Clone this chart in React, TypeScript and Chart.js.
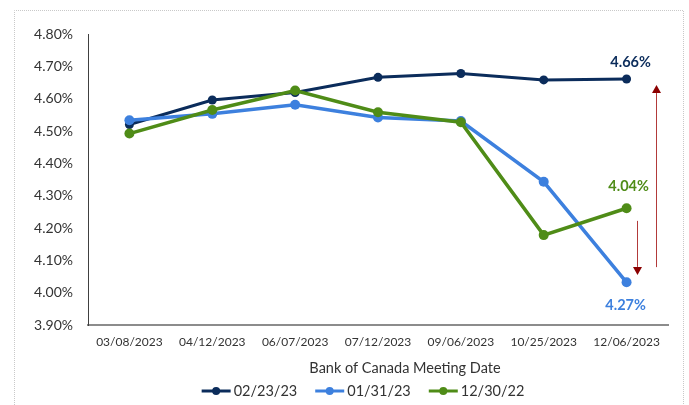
import React, { useEffect, useRef } from 'react';
import { Chart, registerables } from 'chart.js';

Chart.register(...registerables);

// ---- data ----
const categories = ['03/08/2023', '04/12/2023', '06/07/2023', '07/12/2023', '09/06/2023', '10/25/2023', '12/06/2023'];
const seriesNames = ['02/23/23', '01/31/23', '12/30/22'];
const series0223 = [4.52, 4.596, 4.619, 4.666, 4.678, 4.658, 4.661];
const series0131 = [4.533, 4.553, 4.581, 4.542, 4.531, 4.343, 4.032];
const series1230 = [4.492, 4.565, 4.625, 4.558, 4.527, 4.178, 4.261];
const endLabels = ['4.66%', '4.27%', '4.04%'];
const yMin = 3.9;
const yMax = 4.8;
const yStep = 0.1;
const xAxisTitle = 'Bank of Canada Meeting Date';
// arrows: category position (fractional index) and value range (from -> to)
const arrowAt = [6.36, 6.12];
const arrowFrom = [4.079, 4.222];
const arrowTo = [4.642, 4.055];

// ---- styles ----
const colors = ['#0b2c5b', '#3d80de', '#4f8c17'];
const lineWidths = [3, 3.5, 3.5];
const pointRadii = [4.5, 5, 5];
const drawOrder = [2, 1, 0];
const labelOffsets = [
  { dx: 4, dy: -17 },
  { dx: -1, dy: 23 },
  { dx: 2, dy: -22 },
];
const FONT = 'Lato, "Open Sans", sans-serif';
const TEXT = '#333333';

const decorPlugin = {
  id: 'decor',
  beforeDraw(chart: any) {
    const ctx = chart.ctx;
    ctx.save();
    ctx.strokeStyle = '#c9c9c9';
    ctx.lineWidth = 1;
    ctx.setLineDash([1, 1]);
    ctx.beginPath();
    ctx.moveTo(14.5, chart.height);
    ctx.lineTo(14.5, 10.5);
    ctx.lineTo(683.5, 10.5);
    ctx.lineTo(683.5, chart.height);
    ctx.stroke();
    ctx.restore();
  },
  afterDatasetsDraw(chart: any) {
    const ctx = chart.ctx;
    const xs = chart.scales.x;
    const ys = chart.scales.y;
    ctx.save();
    // arrows
    for (let i = 0; i < arrowAt.length; i++) {
      const x = Math.round(xs.getPixelForValue(arrowAt[i])) + 0.5;
      const y0 = ys.getPixelForValue(arrowFrom[i]);
      const y1 = ys.getPixelForValue(arrowTo[i]);
      const dir = y1 < y0 ? -1 : 1;
      const head = 8;
      ctx.strokeStyle = '#b23a3a';
      ctx.lineWidth = 1;
      ctx.beginPath();
      ctx.moveTo(x, y0);
      ctx.lineTo(x, y1 - dir * head);
      ctx.stroke();
      ctx.fillStyle = '#8b0000';
      ctx.beginPath();
      ctx.moveTo(x, y1);
      ctx.lineTo(x - 4.5, y1 - dir * head);
      ctx.lineTo(x + 4.5, y1 - dir * head);
      ctx.closePath();
      ctx.fill();
    }
    // end labels
    ctx.font = `bold 14.5px ${FONT}`;
    ctx.textAlign = 'center';
    ctx.textBaseline = 'middle';
    chart.data.datasets.forEach((ds: any, i: number) => {
      const meta = chart.getDatasetMeta(i);
      const pt = meta.data[meta.data.length - 1];
      if (!pt) return;
      ctx.fillStyle = colors[i];
      ctx.fillText(endLabels[i], pt.x + labelOffsets[i].dx, pt.y + labelOffsets[i].dy);
    });
    ctx.restore();
  },
  afterDraw(chart: any) {
    const ctx = chart.ctx;
    const ca = chart.chartArea;
    const mid = (ca.left + ca.right) / 2;
    ctx.save();
    // axis title
    ctx.fillStyle = TEXT;
    ctx.font = `14.5px ${FONT}`;
    ctx.textAlign = 'center';
    ctx.textBaseline = 'middle';
    ctx.fillText(xAxisTitle, mid + 27, ca.bottom + 43);
    // legend
    ctx.font = `14.5px ${FONT}`;
    const lineLen = 29;
    const gapText = 3;
    const gapItem = 18;
    const widths = seriesNames.map((n) => lineLen + gapText + ctx.measureText(n).width);
    const total = widths.reduce((a, b) => a + b, 0) + gapItem * (seriesNames.length - 1);
    let x = mid - 15 - total / 2;
    const y = ca.bottom + 66;
    ctx.textAlign = 'left';
    seriesNames.forEach((n, i) => {
      ctx.strokeStyle = colors[i];
      ctx.lineWidth = 3;
      ctx.beginPath();
      ctx.moveTo(x, y);
      ctx.lineTo(x + lineLen, y);
      ctx.stroke();
      ctx.fillStyle = colors[i];
      ctx.beginPath();
      ctx.arc(x + lineLen / 2, y, 4, 0, Math.PI * 2);
      ctx.fill();
      ctx.fillStyle = TEXT;
      ctx.fillText(n, x + lineLen + gapText, y + 0.5);
      x += widths[i] + gapItem;
    });
    ctx.restore();
  },
};

export default function App() {
  const ref = useRef<HTMLCanvasElement | null>(null);
  useEffect(() => {
    document.body.style.margin = '0';
    const canvas = ref.current;
    if (!canvas) return;
    const seriesData = [series0223, series0131, series1230];
    const chart = new Chart(canvas, {
      type: 'line',
      data: {
        labels: categories,
        datasets: seriesNames.map((name, i) => ({
          label: name,
          data: seriesData[i],
          borderColor: colors[i],
          backgroundColor: colors[i],
          borderWidth: lineWidths[i],
          pointRadius: pointRadii[i],
          pointHoverRadius: pointRadii[i],
          pointBackgroundColor: colors[i],
          pointBorderWidth: 0,
          tension: 0,
          fill: false,
          order: drawOrder[i],
        })),
      },
      options: {
        responsive: false,
        animation: false,
        devicePixelRatio: 1,
        layout: { padding: { top: 34, right: 21, left: 0, bottom: 0 } },
        plugins: {
          legend: { display: false },
          tooltip: { enabled: false },
          title: { display: false },
        },
        scales: {
          x: {
            type: 'category',
            offset: true,
            grid: { display: false, drawTicks: false },
            border: { display: true, color: '#8c8c8c', width: 2 },
            ticks: {
              color: TEXT,
              font: { family: FONT, size: 12 },
              padding: 10,
              maxRotation: 0,
              autoSkip: false,
            },
            afterFit: (s: any) => {
              s.height = 80;
            },
          },
          y: {
            type: 'linear',
            min: yMin,
            max: yMax,
            grid: { display: false, drawTicks: false },
            border: { display: true, color: '#404040', width: 1 },
            ticks: {
              stepSize: yStep,
              color: TEXT,
              font: { family: FONT, size: 14 },
              padding: 15,
              callback: (v: any) => Number(v).toFixed(2) + '%',
            },
            afterFit: (s: any) => {
              s.width = 88;
            },
          },
        },
      },
      plugins: [decorPlugin],
    });
    return () => chart.destroy();
  }, []);
  return (
    <div style={{ width: 689, height: 405, background: '#fff' }}>
      <canvas ref={ref} width={689} height={405} />
    </div>
  );
}
